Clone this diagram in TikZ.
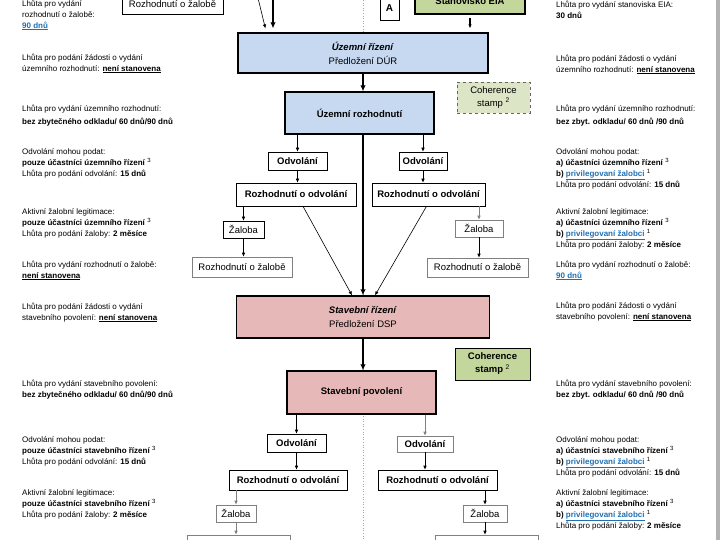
\documentclass[tikz,border=0pt]{standalone}
\usepackage{fontspec}
\setmainfont{Liberation Sans}
\usetikzlibrary{arrows.meta,calc}

\definecolor{uzemni}{HTML}{C6D9F1}
\definecolor{stavebni}{HTML}{E6B9B8}
\definecolor{stampgreen}{HTML}{C3D69B}
\definecolor{stamplight}{HTML}{DCE6C6}
\definecolor{linkblue}{HTML}{1F6FB2}

\newcommand{\weblink}[1]{\textcolor{linkblue}{\underline{#1}}}
\newcommand{\fnref}[1]{{\mdseries\textsuperscript{#1}}}

\begin{document}
\begin{tikzpicture}[x=1pt, y=-1pt,
    note/.style={anchor=north west, align=left, inner sep=0pt, font=\fontsize{8}{11}\selectfont},
    stepbox/.style={draw, fill=white, line width=0.6pt, inner sep=0pt, font=\fontsize{9.5}{12}\selectfont},
    softbox/.style={stepbox, draw=gray},
    mainbox/.style={draw, line width=1.3pt, inner sep=0pt, align=center, font=\fontsize{9.5}{14}\selectfont},
    thinarrow/.style={-{Latex[length=4pt,width=3.5pt]}, line width=0.6pt},
    faintarrow/.style={thinarrow, draw=gray, fill=gray},
    mainarrow/.style={-{Latex[length=6pt,width=5.5pt]}, line width=1.6pt}]

        \useasboundingbox (0,0) rectangle (720,540);

        % Background: dotted middle line and page edge
        \draw[gray!70, dotted, line width=0.6pt] (363,0) -- (363,540);
        \fill[gray!60] (716,0) rectangle (720,540);

        % Top row
        \node[stepbox, minimum width=101pt, minimum height=20pt] (rozzal0) at (172.5,4) {Rozhodnutí o žalobě};
        \node[stepbox, line width=0.8pt, minimum width=19pt, minimum height=24pt, font=\bfseries\fontsize{10}{12}\selectfont] (A) at (389.5,8) {A};
        \node[mainbox, fill=stampgreen, minimum width=110pt, minimum height=26pt, font=\bfseries\fontsize{9.5}{12}\selectfont] (eia) at (470,1) {Stanovisko EIA};

        % Uzemni rizeni
        \node[mainbox, fill=uzemni, minimum width=250pt, minimum height=40pt] (uzriz) at (363,53) {\textbf{\textit{Územní řízení}}\\Předložení DÚR};
        \node[draw=black!60, dashed, line width=0.8pt, fill=stamplight, inner sep=0pt, align=center, minimum width=73pt, minimum height=31pt, font=\fontsize{9.5}{13}\selectfont] (coh1) at (493.5,97.5) {Coherence\\stamp \textsuperscript{2}};
        \node[mainbox, fill=uzemni, minimum width=149pt, minimum height=42pt, font=\bfseries\fontsize{9.5}{12}\selectfont] (uzroz) at (359.5,113) {Územní rozhodnutí};

        \node[stepbox, minimum width=59pt, minimum height=18pt, font=\bfseries\fontsize{9.5}{12}\selectfont] (odvL1) at (297.5,161) {Odvolání};
        \node[stepbox, minimum width=48pt, minimum height=18pt, font=\bfseries\fontsize{9.5}{12}\selectfont] (odvR1) at (423,161) {Odvolání};
        \node[stepbox, minimum width=120pt, minimum height=23pt, font=\bfseries\fontsize{9.5}{12}\selectfont] (rozodvL1) at (296,194.5) {Rozhodnutí o odvolání};
        \node[stepbox, minimum width=113pt, minimum height=23pt, font=\bfseries\fontsize{9.5}{12}\selectfont] (rozodvR1) at (428.5,194.5) {Rozhodnutí o odvolání};
        \node[stepbox, minimum width=41pt, minimum height=17pt] (zalL1) at (243.5,229.5) {Žaloba};
        \node[softbox, minimum width=48pt, minimum height=17pt] (zalR1) at (479,228.5) {Žaloba};
        \node[softbox, minimum width=100pt, minimum height=20pt] (rozzalL1) at (242,267) {Rozhodnutí o žalobě};
        \node[softbox, minimum width=101pt, minimum height=19pt] (rozzalR1) at (477.5,267.5) {Rozhodnutí o žalobě};

        % Stavebni rizeni
        \node[mainbox, fill=stavebni, minimum width=253pt, minimum height=42pt] (stavriz) at (363,317) {\textbf{\textit{Stavební řízení}}\\Předložení DSP};
        \node[mainbox, line width=0.9pt, fill=stampgreen, minimum width=75pt, minimum height=32pt, font=\bfseries\fontsize{9.5}{13}\selectfont] (coh2) at (492.5,364) {Coherence\\stamp \fnref{2}};
        \node[mainbox, fill=stavebni, minimum width=149pt, minimum height=43pt, font=\bfseries\fontsize{9.5}{12}\selectfont] (stavpov) at (361.5,392.5) {Stavební povolení};

        \node[stepbox, minimum width=59pt, minimum height=18pt, font=\bfseries\fontsize{9.5}{12}\selectfont] (odvL2) at (296.5,443) {Odvolání};
        \node[softbox, minimum width=56pt, minimum height=16pt, font=\bfseries\fontsize{9.5}{12}\selectfont] (odvR2) at (425,444) {Odvolání};
        \node[stepbox, minimum width=118pt, minimum height=20pt, font=\bfseries\fontsize{9.5}{12}\selectfont] (rozodvL2) at (288,480) {Rozhodnutí o odvolání};
        \node[stepbox, minimum width=119pt, minimum height=20pt, font=\bfseries\fontsize{9.5}{12}\selectfont] (rozodvR2) at (437.5,480) {Rozhodnutí o odvolání};
        \node[softbox, minimum width=40pt, minimum height=17pt] (zalL2) at (236,513.5) {Žaloba};
        \node[softbox, minimum width=44pt, minimum height=17pt] (zalR2) at (485,513.5) {Žaloba};
        \node[softbox, minimum width=103pt, minimum height=20pt] (rozzalL2) at (238.5,545) {};
        \node[softbox, minimum width=103pt, minimum height=20pt] (rozzalR2) at (486.5,545) {};

        % Draw arrows
        \coordinate (fromLeft) at (258,-2);
        \coordinate (fromTop) at (273,-2);
        \draw[thinarrow, shorten >=4pt] (fromLeft) -- ($(uzriz.north west)+(29,0)$);
        \draw[mainarrow, shorten >=4pt] (fromTop) -- (fromTop |- uzriz.north);
        \draw[thinarrow, line width=1.2pt, shorten <=3pt, shorten >=4pt] (eia.south) -- (eia.south |- uzriz.north);

        \draw[mainarrow] (uzriz.south) -- (uzriz.south |- uzroz.north);
        \draw[thinarrow] (odvL1.north |- uzroz.south) -- (odvL1.north);
        \draw[thinarrow] (odvR1.north |- uzroz.south) -- (odvR1.north);
        \draw[mainarrow] (uzriz.south |- uzroz.south) -- (uzriz.south |- stavriz.north);
        \draw[thinarrow] (odvL1.south) -- (odvL1.south |- rozodvL1.north);
        \draw[thinarrow] (odvR1.south) -- (odvR1.south |- rozodvR1.north);
        \draw[thinarrow] (zalL1.north |- rozodvL1.south) -- (zalL1.north);
        \draw[faintarrow] (zalR1.north |- rozodvR1.south) -- (zalR1.north);
        \draw[thinarrow] (zalL1.south) -- (zalL1.south |- rozzalL1.north);
        \draw[thinarrow] (zalR1.south) -- (zalR1.south |- rozzalR1.north);
        \draw[thinarrow] ($(rozodvL1.south)+(7,0)$) -- ($(stavriz.north)+(-11,0)$);
        \draw[thinarrow] ($(rozodvR1.south)+(-2,0)$) -- ($(stavriz.north)+(12,0)$);

        \draw[mainarrow] (stavriz.south) -- (stavriz.south |- stavpov.north);
        \draw[thinarrow] (odvL2.north |- stavpov.south) -- (odvL2.north);
        \draw[faintarrow] (odvR2.north |- stavpov.south) -- (odvR2.north);
        \draw[thinarrow] (odvL2.south) -- (odvL2.south |- rozodvL2.north);
        \draw[thinarrow] (odvR2.south) -- (odvR2.south |- rozodvR2.north);
        \draw[faintarrow] (zalL2.north |- rozodvL2.south) -- (zalL2.north);
        \draw[thinarrow] (zalR2.north |- rozodvR2.south) -- (zalR2.north);
        \draw[faintarrow] (zalL2.south) -- (zalL2.south |- rozzalL2.north);
        \draw[thinarrow] (zalR2.south) -- (zalR2.south |- rozzalR2.north);

        % Left notes
        \node[note] (lhutaZal0) at (22,-0.5) {Lhůta pro vydání\\rozhodnutí o žalobě:\\\textbf{\weblink{90 dnů}}};
        \node[note] (zadostUR) at (22,53.5) {Lhůta pro podání žádosti o vydání\\územního rozhodnutí: \textbf{\underline{není stanovena}}};
        \node[note] (vydaniUR) at (22,104.5) {Lhůta pro vydání územního rozhodnutí:\\[2pt]\textbf{bez zbytečného odkladu/ 60 dnů/90 dnů}};
        \node[note] (odvolUR) at (22,148.5) {Odvolání mohou podat:\\\textbf{pouze účastníci územního řízení}~\fnref{3}\\Lhůta pro podání odvolání: \textbf{15 dnů}};
        \node[note] (zalobaUR) at (22,208.5) {Aktivní žalobní legitimace:\\\textbf{pouze účastníci územního řízení}~\fnref{3}\\Lhůta pro podání žaloby: \textbf{2 měsíce}};
        \node[note] (rozzalUR) at (22,260.5) {Lhůta pro vydání rozhodnutí o žalobě:\\\textbf{\underline{není stanovena}}};
        \node[note] (zadostSP) at (22,302.5) {Lhůta pro podání žádosti o vydání\\stavebního povolení: \textbf{\underline{není stanovena}}};
        \node[note] (vydaniSP) at (22,379.5) {Lhůta pro vydání stavebního povolení:\\\textbf{bez zbytečného odkladu/ 60 dnů/90 dnů}};
        \node[note] (odvolSP) at (22,436.5) {Odvolání mohou podat:\\\textbf{pouze účastníci stavebního řízení}~\fnref{3}\\Lhůta pro podání odvolání: \textbf{15 dnů}};
        \node[note] (zalobaSP) at (22,489.5) {Aktivní žalobní legitimace:\\\textbf{pouze účastníci stavebního řízení}~\fnref{3}\\Lhůta pro podání žaloby: \textbf{2 měsíce}};

        % Right notes
        \node[note] (lhutaEIA) at (556,0.5) {Lhůta pro vydání stanoviska EIA:\\\textbf{30 dnů}};
        \node[note] (zadostURb) at (556,54.5) {Lhůta pro podání žádosti o vydání\\územního rozhodnutí: \textbf{\underline{není stanovena}}};
        \node[note] (vydaniURb) at (556,104.5) {Lhůta pro vydání územního rozhodnutí:\\[2pt]\textbf{bez zbyt. odkladu/ 60 dnů /90 dnů}};
        \node[note] (odvolURb) at (556,148.5) {Odvolání mohou podat:\\\textbf{a) účastníci územního řízení}~\fnref{3}\\\textbf{b) \weblink{privilegovaní žalobci}}~\fnref{1}\\Lhůta pro podání odvolání: \textbf{15 dnů}};
        \node[note] (zalobaURb) at (556,208.5) {Aktivní žalobní legitimace:\\\textbf{a) účastníci územního řízení}~\fnref{3}\\\textbf{b) \weblink{privilegovaní žalobci}}~\fnref{1}\\Lhůta pro podání žaloby: \textbf{2 měsíce}};
        \node[note] (rozzalURb) at (556,260.5) {Lhůta pro vydání rozhodnutí o žalobě:\\\textbf{\weblink{90 dnů}}};
        \node[note] (zadostSPb) at (556,301.5) {Lhůta pro podání žádosti o vydání\\stavebního povolení: \textbf{\underline{není stanovena}}};
        \node[note] (vydaniSPb) at (556,379.5) {Lhůta pro vydání stavebního povolení:\\\textbf{bez zbyt. odkladu/ 60 dnů /90 dnů}};
        \node[note] (odvolSPb) at (556,436.5) {Odvolání mohou podat:\\\textbf{a) účastníci stavebního řízení}~\fnref{3}\\\textbf{b) \weblink{privilegovaní žalobci}}~\fnref{1}\\Lhůta pro podání odvolání: \textbf{15 dnů}};
        \node[note] (zalobaSPb) at (556,489.5) {Aktivní žalobní legitimace:\\\textbf{a) účastníci stavebního řízení}~\fnref{3}\\\textbf{b) \weblink{privilegovaní žalobci}}~\fnref{1}\\Lhůta pro podání žaloby: \textbf{2 měsíce}};

    \end{tikzpicture}
\end{document}
